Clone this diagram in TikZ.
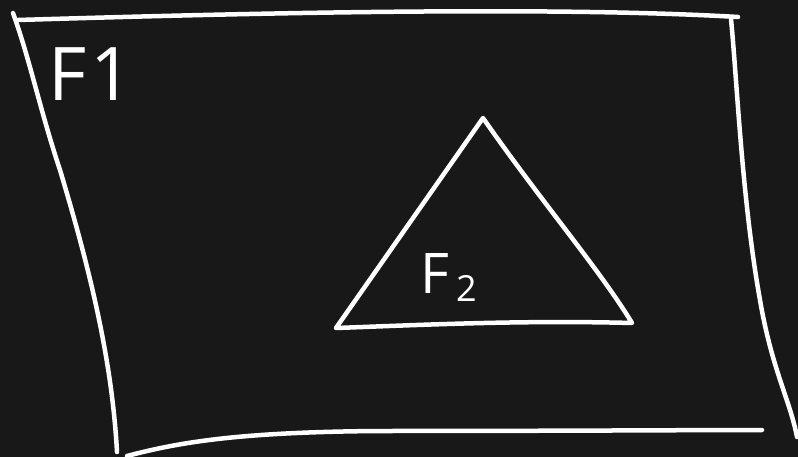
\documentclass[tikz,border=0pt]{standalone}
\usepackage{fontspec}
\setmainfont{Open Sans}
\definecolor{board}{RGB}{24,24,24}
\begin{document}
\begin{tikzpicture}[x=1pt,y=-1pt,
  chalk/.style={draw=white,line width=4.5pt,line cap=round,line join=round},
  label/.style={text=white,inner sep=0pt,anchor=base west}]
\fill[board] (0,0) rectangle (798,457);
\useasboundingbox (0,0) rectangle (798,457);
% outer frame
\draw[chalk] (13,13) .. controls (30,60) and (40,110) .. (60,170)
  .. controls (90,270) and (112,360) .. (117,452);
\draw[chalk] (18,20) .. controls (250,13) and (550,6) .. (738,17);
\draw[chalk] (731,19) .. controls (737,80) and (742,200) .. (760,300)
  .. controls (772,370) and (790,400) .. (797,437);
\draw[chalk] (127,456) .. controls (180,442) and (240,432) .. (380,431)
  .. controls (550,431) and (700,430) .. (762,430);
% triangle
\draw[chalk] (336,328) -- (483,118) .. controls (540,200) and (600,270) .. (632,323)
  .. controls (520,320) and (420,325) .. (336,328);
% labels
\node[label,font=\fontsize{74}{74}\selectfont] (f1) at (48,101) {F\kern4pt1};
\node[label,font=\fontsize{56}{56}\selectfont] (f2) at (420,293)
  {F\kern7pt\raisebox{-9pt}{\fontsize{36}{36}\selectfont 2}};
\end{tikzpicture}
\end{document}
